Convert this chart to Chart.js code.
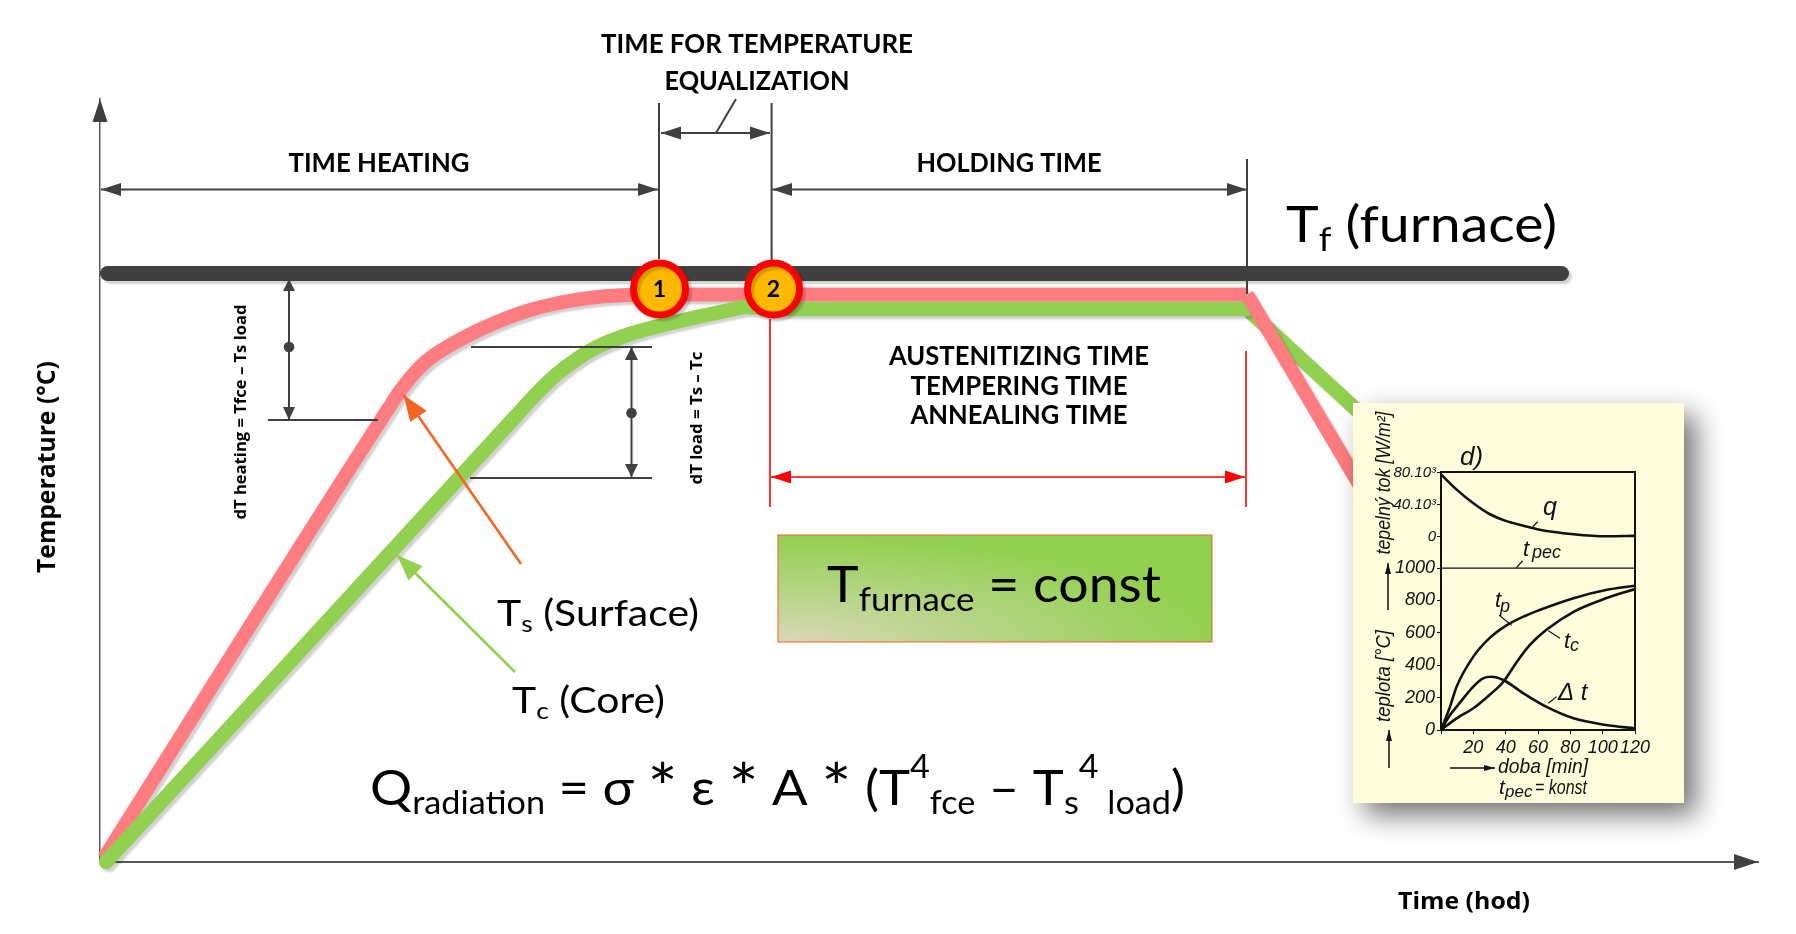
<!DOCTYPE html>
<html>
<head>
<meta charset="utf-8">
<title>Heating curve</title>
<script src="https://cdn.jsdelivr.net/npm/chart.js@4"></script>
<style>
	html, body { margin: 0; padding: 0; background: #fff; }
	#wrap { position: relative; width: 1796px; height: 934px; overflow: hidden; }
	#mainChart { position: absolute; left: 0; top: 0; }
	#insetChart { position: absolute; left: 1353px; top: 403px; background: #fffcdb; box-shadow: 12px 12px 26px rgba(0,0,0,.55); }
</style>
</head>
<body>
<div id="wrap">
	<canvas id="mainChart" width="1796" height="934"></canvas>
	<canvas id="insetChart" width="331" height="400"></canvas>
</div>
<script>
// main schedule (time and temperature in schematic units, the axes have no ticks)
const furnaceTemp = [[7.5, 588.5], [1461.5, 588.5]];
const surfaceHeat = [[4, 4], [290, 456], [300, 471], [320, 495], [333, 506], [363, 524], [397, 540], [430, 552], [463, 560], [497, 565], [530, 567], [580, 567.5], [1147, 567.5]];
const surfaceCool = [[1147, 567.5], [1260, 376]];
const coreHeat = [[6, 0], [415, 445], [437, 469], [457, 488], [477, 503], [497, 515], [530, 528], [563, 537], [597, 545], [630, 552], [645, 555], [675, 553], [1147, 553]];
const coreCool = [[1147, 553], [1260, 449]];
const stagePoints = [[559.5, 573], [673.5, 573]];
const stageNames = ['1', '2'];

// dimension lines, null splits the pieces
const dimLines = [
	[1, 672.5], [558, 672.5], null,
	[559, 759], [559, 603], null,
	[671.6, 759], [671.6, 602], null,
	[561, 729], [670, 729], null,
	[636, 763], [616, 729], null,
	[672, 672.5], [1147, 672.5], null,
	[1147, 703], [1147, 568], null,
	[189, 582], [189, 442], null,
	[168, 442], [278, 442], null,
	[531.5, 515], [531.5, 385], null,
	[371, 515], [552, 515], null,
	[370, 384], [552, 384]
];
const dimDots = [[189, 515], [531.5, 449]];
const holdLines = [
	[670, 543], [670, 355], null,
	[1146, 511], [1146, 355], null,
	[671, 385], [1145, 385]
];
const surfacePointer = [[303.6, 467], [421, 298]];
const corePointer = [[297, 307], [415, 190]];
const constBox = [678, 327, 1112, 220];

// tip x, tip y, from x, from y, length, half width, colour
const arrowHeads = [
	[0, 763, 0, 600, 23, 7.5, '#404040'],
	[1658, 0, 1500, 0, 24, 8, '#404040'],
	[1, 672.5, 100, 672.5, 20, 6.5, '#404040'],
	[558, 672.5, 400, 672.5, 20, 6.5, '#404040'],
	[561, 729, 600, 729, 20, 6.5, '#404040'],
	[670, 729, 600, 729, 20, 6.5, '#404040'],
	[672, 672.5, 800, 672.5, 20, 6.5, '#404040'],
	[1147, 672.5, 800, 672.5, 20, 6.5, '#404040'],
	[189, 583, 189, 500, 12, 6, '#404040'],
	[189, 442, 189, 500, 13, 6, '#404040'],
	[531.5, 515, 531.5, 450, 13, 6.5, '#404040'],
	[531.5, 385, 531.5, 450, 13, 6.5, '#404040'],
	[671, 385, 800, 385, 20, 6.5, '#ff0000'],
	[1145, 385, 800, 385, 20, 6.5, '#ff0000'],
	[303.6, 467, 421, 298, 26, 10, '#f26522'],
	[297, 307, 415, 190, 26, 10, '#92d050']
];

const CAL = '"Lato", "Open Sans", sans-serif';
const WIDE = '"Open Sans", sans-serif';
const NARROW = '"Liberation Sans Narrow", "Liberation Sans", sans-serif';

// runs: text + kind (n normal, sub, sup, star), w = squeeze to that width, rot = rotated
const mainLabels = [
	{ runs: [['TIME FOR TEMPERATURE', 'n']], x: 657, y: 809, size: 26, bold: 1, align: 'c', w: 312 },
	{ runs: [['EQUALIZATION', 'n']], x: 657, y: 772, size: 26, bold: 1, align: 'c', w: 185 },
	{ runs: [['TIME HEATING', 'n']], x: 279, y: 690, size: 26, bold: 1, align: 'c', w: 181 },
	{ runs: [['HOLDING TIME', 'n']], x: 909, y: 690, size: 26, bold: 1, align: 'c', w: 185 },
	{ runs: [['AUSTENITIZING TIME', 'n']], x: 919, y: 497, size: 26, bold: 1, align: 'c', w: 260 },
	{ runs: [['TEMPERING TIME', 'n']], x: 919, y: 467, size: 26, bold: 1, align: 'c', w: 217 },
	{ runs: [['ANNEALING TIME', 'n']], x: 919, y: 438, size: 26, bold: 1, align: 'c', w: 217 },
	{ runs: [['T', 'n'], ['f', 'sub'], [' (furnace)', 'n']], x: 1186, y: 620, size: 50, w: 271 },
	{ runs: [['T', 'n'], ['s', 'sub'], [' (Surface)', 'n']], x: 397, y: 236, size: 36, w: 202 },
	{ runs: [['T', 'n'], ['c', 'sub'], [' (Core)', 'n']], x: 412, y: 149, size: 36, w: 153 },
	{ runs: [['T', 'n'], ['furnace', 'sub'], [' = const', 'n']], x: 727, y: 260, size: 50, w: 334 },
	{ runs: [['Q', 'n'], ['radiation', 'sub'], [' = σ ', 'n'], ['*', 'star'], [' ε ', 'n'], ['*', 'star'], [' A ', 'n'], ['*', 'star'], [' (T', 'n'], ['4', 'sup'], ['fce', 'sub'], [' – T', 'n'], ['s', 'sub'], ['4', 'sup'], [' load', 'sub'], [')', 'n']], x: 270, y: 57, size: 49, w: 815 },
	{ runs: [[stageNames[0], 'n']], x: 559.5, y: 565, size: 23, bold: 1, align: 'c' },
	{ runs: [[stageNames[1], 'n']], x: 673.5, y: 565, size: 23, bold: 1, align: 'c' },
	{ runs: [['Temperature (°C)', 'n']], x: -45, y: 395, size: 25, bold: 1, font: WIDE, align: 'c', w: 212, rot: 1 },
	{ runs: [['dT heating = Tfce – Ts load', 'n']], x: 146, y: 450, size: 16, bold: 1, font: WIDE, align: 'c', w: 215, rot: 1 },
	{ runs: [['dT load = Ts – Tc', 'n']], x: 601.5, y: 444, size: 16, bold: 1, font: WIDE, align: 'c', w: 133, rot: 1 },
	{ runs: [['Time (hod)', 'n']], x: 1364, y: -47, size: 24, bold: 1, font: WIDE, align: 'c', w: 132 }
];

// the small scanned chart: minutes on x, degrees and W/m2 (thousands) on y
const insetMinutes = [0, 5.6, 9.7, 20, 30, 40, 51, 61, 82, 102, 120];
const insetSurface = [0, 144, 268, 453, 567, 643, 700, 741, 814, 864, 891];
const coreMinutes = [0, 9.7, 20, 30, 38.6, 47, 55, 65, 82, 102, 120];
const insetCore = [0, 72, 134, 216, 298, 422, 525, 617, 730, 813, 870];
const deltaMinutes = [0, 5.6, 9.7, 20, 26, 31, 38.6, 51, 65, 82, 102, 120];
const insetDelta = [0, 93, 144, 268, 319, 329, 309, 226, 144, 72, 31, 10];
const fluxMinutes = [0, 9.7, 20, 30, 40, 51, 61, 82, 102, 120];
const insetFlux = [78, 59, 42, 28.6, 20, 14, 9, 3.4, 0.8, 1.3];
const furnaceMinutes = [0, 120];
const furnaceSet = [1000, 1000];
const insetTempTicks = [0, 200, 400, 600, 800, 1000];
const insetFluxTicks = [0, 40, 80];
const insetLeaders = [
	[56.7, 1255], [59.8, 1286], null,
	[46.4, 1000], [50.5, 1045], null,
	[36, 708], [43.7, 646], null,
	[66.4, 613], [73.6, 566], null,
	[66.4, 165], [71.5, 206]
];

function toXY(list) {
	return list.map(function (p) { return p ? { x: p[0], y: p[1] } : { x: null, y: null }; });
}

function zip(xs, ys) {
	return xs.map(function (x, i) { return { x: x, y: ys[i] }; });
}

function lineSet(list, color, width, order, extra) {
	return Object.assign({
		data: toXY(list), borderColor: color, borderWidth: width, order: order,
		pointRadius: 0, showLine: true, fill: false, spanGaps: false,
		borderCapStyle: 'butt'
	}, extra || {});
}

function drawRuns(ctx, l, px, py) {
	const fam = l.font || CAL;
	const weight = l.bold ? 'bold ' : '';
	const fontFor = function (kind) {
		var s = l.size;
		if (kind === 'sub' || kind === 'sup') s = l.size * 0.65;
		if (kind === 'star') s = l.size * 1.35;
		return weight + s + 'px ' + fam;
	};
	var total = 0;
	l.runs.forEach(function (r) {
		ctx.font = fontFor(r[1]);
		total += ctx.measureText(r[0]).width;
	});
	const sx = l.w ? l.w / total : 1;
	ctx.save();
	ctx.translate(px, py);
	if (l.rot) ctx.rotate(-Math.PI / 2);
	ctx.scale(sx, 1);
	ctx.fillStyle = '#000';
	ctx.textBaseline = 'alphabetic';
	ctx.textAlign = 'left';
	var x = l.align === 'c' ? -total / 2 : 0;
	l.runs.forEach(function (r) {
		ctx.font = fontFor(r[1]);
		var dy = 0;
		if (r[1] === 'sub') dy = l.size * 0.18;
		if (r[1] === 'sup') dy = -l.size * 0.56;
		if (r[1] === 'star') dy = l.size * 0.14;
		ctx.fillText(r[0], x, dy);
		x += ctx.measureText(r[0]).width;
	});
	ctx.restore();
}

const schedulePlugin = {
	id: 'schedule',
	beforeDatasetsDraw: function (chart) {
		const c = chart.ctx, sx = chart.scales.x, sy = chart.scales.y;
		const x0 = sx.getPixelForValue(constBox[0]), y0 = sy.getPixelForValue(constBox[1]);
		const x1 = sx.getPixelForValue(constBox[2]), y1 = sy.getPixelForValue(constBox[3]);
		const W = x1 - x0, H = y1 - y0;
		// pale corner bottom left, green everywhere else
		c.save();
		c.translate(x0, y1);
		c.scale(W / H, 1);
		const g = c.createRadialGradient(0, 0, 0, 0, 0, H);
		g.addColorStop(0, '#dcd6b8');
		g.addColorStop(0.3, '#c2d698');
		g.addColorStop(1, '#92d050');
		c.fillStyle = g;
		c.fillRect(0, -H, H, H);
		c.restore();
		c.strokeStyle = '#f26522';
		c.lineWidth = 1;
		c.strokeRect(x0, y0, W, H);
	},
	beforeDatasetDraw: function (chart, args) {
		if (chart.data.datasets[args.index].shadow) {
			const c = chart.ctx;
			c.save();
			c.shadowColor = 'rgba(0,0,0,.18)';
			c.shadowOffsetX = 3;
			c.shadowOffsetY = 3;
			c.shadowBlur = 2;
		}
	},
	afterDatasetDraw: function (chart, args) {
		if (chart.data.datasets[args.index].shadow) chart.ctx.restore();
	},
	afterDraw: function (chart) {
		const c = chart.ctx, sx = chart.scales.x, sy = chart.scales.y;
		arrowHeads.forEach(function (a) {
			const tx = sx.getPixelForValue(a[0]), ty = sy.getPixelForValue(a[1]);
			const fx = sx.getPixelForValue(a[2]), fy = sy.getPixelForValue(a[3]);
			const ang = Math.atan2(ty - fy, tx - fx);
			c.save();
			c.translate(tx, ty);
			c.rotate(ang);
			c.fillStyle = a[6];
			c.beginPath();
			c.moveTo(0, 0);
			c.lineTo(-a[4], -a[5]);
			c.lineTo(-a[4], a[5]);
			c.closePath();
			c.fill();
			c.restore();
		});
		mainLabels.forEach(function (l) {
			drawRuns(c, l, sx.getPixelForValue(l.x), sy.getPixelForValue(l.y));
		});
	}
};

var mainChart = new Chart(document.getElementById('mainChart'), {
	type: 'scatter',
	plugins: [schedulePlugin],
	data: {
		datasets: [
			{
				data: toXY(stagePoints), order: 0, pointRadius: 26, pointBorderWidth: 7,
				pointBackgroundColor: '#ffb900', pointBorderColor: '#ff0000', showLine: false, shadow: true
			},
			lineSet(dimLines, '#404040', 2, 1),
			{ data: toXY(dimDots), order: 1, pointRadius: 5.3, pointBackgroundColor: '#404040', pointBorderWidth: 0, showLine: false },
			lineSet(holdLines, '#ff0000', 1.6, 1),
			lineSet(surfacePointer, '#f26522', 2.6, 1),
			lineSet(corePointer, '#92d050', 2.6, 1),
			lineSet(surfaceCool, '#ff7c80', 14, 2, { shadow: true }),
			lineSet(coreHeat, '#92d050', 14.5, 3, { shadow: true, borderCapStyle: 'round', borderJoinStyle: 'round', cubicInterpolationMode: 'monotone' }),
			lineSet(coreCool, '#92d050', 14.5, 3, { shadow: true }),
			lineSet(surfaceHeat, '#ff7c80', 14, 4, { shadow: true, borderJoinStyle: 'round', cubicInterpolationMode: 'monotone' }),
			lineSet(furnaceTemp, '#404040', 15, 5, { shadow: true, borderCapStyle: 'round' })
		]
	},
	options: {
		responsive: false,
		animation: false,
		events: [],
		clip: false,
		layout: { padding: { left: 100, right: 38, top: 99, bottom: 72 } },
		plugins: { legend: { display: false }, tooltip: { enabled: false } },
		scales: {
			x: {
				type: 'linear', min: 0, max: 1658,
				grid: { display: false }, ticks: { display: false },
				border: { display: true, color: '#595959', width: 2 },
				afterFit: function (s) { s.height = 0; }
			},
			y: {
				type: 'linear', min: 0, max: 763,
				grid: { display: false }, ticks: { display: false },
				border: { display: true, color: '#595959', width: 1.5 },
				afterFit: function (s) { s.width = 0; }
			}
		}
	}
});

const insetPlugin = {
	id: 'insetNotes',
	// flux axis shares the space of the degree axis, its labels get clipped otherwise
	afterLayout: function (chart) {
		chart.scales.flux.left = 0;
	},
	afterDraw: function (chart) {
		const c = chart.ctx, a = chart.chartArea;
		c.save();
		c.strokeStyle = '#111';
		c.lineWidth = 2;
		c.strokeRect(a.left, a.top, a.right - a.left, a.bottom - a.top);
		c.fillStyle = '#111';
		const text = function (s, x, y, size, w) {
			c.font = 'italic ' + size + 'px ' + NARROW;
			c.fillText(s, x, y, w);
		};
		// offsets inside the yellow card
		text('d)', 107, 62, 26);
		text('q', 190, 112, 25);
		text('t', 170, 153, 22);
		text('pec', 179, 155, 18);
		text('t', 142, 204, 22);
		text('p', 147, 209, 18);
		text('t', 211, 245, 22);
		text('c', 217, 248, 18);
		text('Δ t', 205, 297, 24);
		text('doba [min]', 145, 370, 21, 90);
		text('t', 146, 391, 21);
		text('pec', 152, 394, 17);
		text('= konst', 182, 391, 21, 52);
		const turned = function (s, x, y, w) {
			c.save();
			c.translate(x, y);
			c.rotate(-Math.PI / 2);
			c.textAlign = 'center';
			c.font = 'italic 20px ' + NARROW;
			c.fillText(s, 0, 0, w);
			c.restore();
		};
		turned('tepelný tok [W/m²]', 37, 80, 143);
		turned('teplota [°C]', 37, 273, 92);
		const stick = function (x0, y0, x1, y1) {
			c.beginPath();
			c.moveTo(x0, y0);
			c.lineTo(x1, y1);
			c.lineWidth = 1.5;
			c.stroke();
			const ang = Math.atan2(y1 - y0, x1 - x0);
			c.save();
			c.translate(x1, y1);
			c.rotate(ang);
			c.beginPath();
			c.moveTo(0, 0);
			c.lineTo(-11, -3);
			c.lineTo(-11, 3);
			c.closePath();
			c.fill();
			c.restore();
		};
		stick(35, 207, 35, 160);
		stick(36, 365, 36, 327);
		stick(97, 365, 142, 365);
		c.restore();
	}
};

var insetChart = new Chart(document.getElementById('insetChart'), {
	type: 'scatter',
	plugins: [insetPlugin],
	data: {
		datasets: [
			lineSet([], '#111', 2.6, 1, { data: zip(insetMinutes, insetSurface), cubicInterpolationMode: 'monotone' }),
			lineSet([], '#111', 2.6, 1, { data: zip(coreMinutes, insetCore), cubicInterpolationMode: 'monotone' }),
			lineSet([], '#111', 2.6, 1, { data: zip(deltaMinutes, insetDelta), cubicInterpolationMode: 'monotone' }),
			lineSet([], '#111', 1.3, 1, { data: zip(furnaceMinutes, furnaceSet) }),
			lineSet([], '#111', 2.6, 1, { data: zip(fluxMinutes, insetFlux), yAxisID: 'flux', cubicInterpolationMode: 'monotone' }),
			lineSet(insetLeaders, '#111', 1.2, 1)
		]
	},
	options: {
		responsive: false,
		animation: false,
		events: [],
		layout: { padding: { left: 0, right: 49, top: 69, bottom: 0 } },
		plugins: { legend: { display: false }, tooltip: { enabled: false } },
		scales: {
			x: {
				type: 'linear', min: 0, max: 120,
				grid: { drawOnChartArea: false, tickLength: 4, color: '#111' },
				border: { color: '#111', width: 2 },
				ticks: {
					stepSize: 20, color: '#111', maxRotation: 0, padding: 3, autoSkip: false,
					font: { family: NARROW, style: 'italic', size: 18 },
					callback: function (v) { return v === 0 ? '' : String(v); }
				},
				afterFit: function (s) { s.height = 73; }
			},
			y: {
				type: 'linear', min: 0, max: 1593, position: 'left', weight: 1,
				grid: { drawOnChartArea: false, tickLength: 4, color: '#111' },
				border: { color: '#111', width: 2 },
				ticks: {
					color: '#111', padding: 2, autoSkip: false,
					font: { family: NARROW, style: 'italic', size: 18 },
					callback: function (v) { return String(v); }
				},
				afterBuildTicks: function (s) { s.ticks = insetTempTicks.map(function (v) { return { value: v }; }); },
				afterFit: function (s) { s.width = 88; }
			},
			flux: {
				type: 'linear', min: -241, max: 81, position: 'left', weight: 0,
				grid: { drawOnChartArea: false, tickLength: 4, color: '#111' },
				border: { display: false },
				ticks: {
					color: '#111', padding: 1, autoSkip: false,
					font: { family: NARROW, style: 'italic', size: 15 },
					callback: function (v) { return v === 0 ? '0' : v + '.10³'; }
				},
				afterBuildTicks: function (s) { s.ticks = insetFluxTicks.map(function (v) { return { value: v }; }); },
				afterFit: function (s) { s.width = 0; }
			}
		}
	}
});
</script>
</body>
</html>
